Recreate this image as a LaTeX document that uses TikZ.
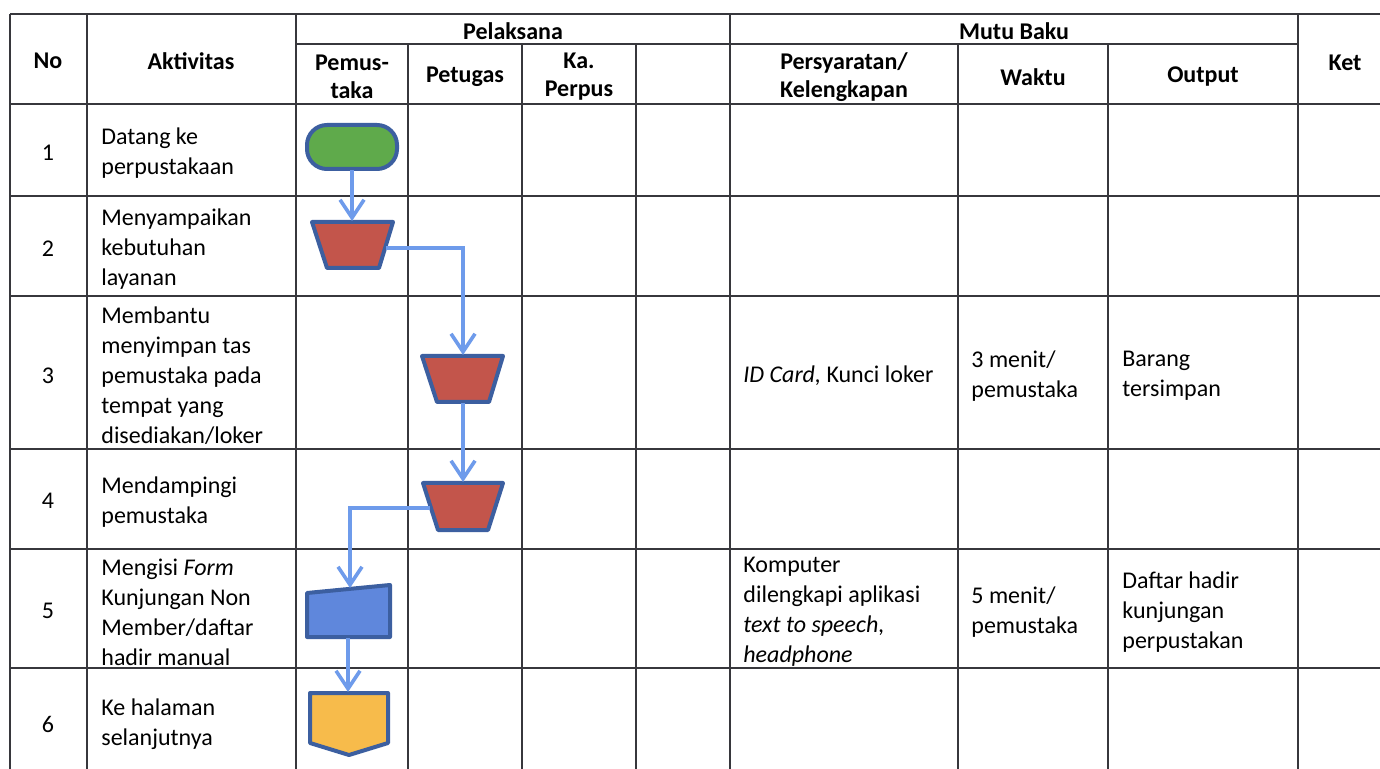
\documentclass[tikz,border=0pt]{standalone}
\usepackage{fontspec}
\setmainfont{Carlito}
\usetikzlibrary{arrows.meta}
\definecolor{gridc}{RGB}{55,55,60}
\definecolor{connc}{RGB}{110,155,235}
\definecolor{shpb}{RGB}{60,95,160}
\definecolor{greenc}{RGB}{95,170,75}
\definecolor{redc}{RGB}{195,85,75}
\definecolor{bluec}{RGB}{95,135,220}
\definecolor{goldc}{RGB}{247,187,75}
\begin{document}
\begin{tikzpicture}[x=0.5pt,y=-0.5pt,
  gridline/.style={draw=gridc,line width=0.8pt},
  hd/.style={font=\fontsize{12}{14}\selectfont\bfseries,align=center,inner sep=0pt},
  tx/.style={font=\fontsize{12}{15}\selectfont,align=left,anchor=west,inner sep=0pt},
  num/.style={font=\fontsize{12}{15}\selectfont,inner sep=0pt},
  shp/.style={draw=shpb,line width=2pt,line join=round},
  conn/.style={draw=connc,line width=1.8pt,-{Straight Barb[length=9pt,width=12pt,line width=1.8pt]}}
  ]
\useasboundingbox (0,0) rectangle (1380,769);
\fill[white] (0,0) rectangle (1380,769);
% table grid
\draw[gridline] (10,14) -- (1380,14);
\draw[gridline] (296,44) -- (1298,44);
\foreach \yy in {104,196,296,449,549,668}{\draw[gridline] (10,\yy) -- (1380,\yy);}
\foreach \xx in {10,87,296,730,1298}{\draw[gridline] (\xx,14) -- (\xx,769);}
\foreach \xx in {408,522,636,958,1108}{\draw[gridline] (\xx,44) -- (\xx,769);}
% headers
\node[hd] (hno) at (48,61) {No};
\node[hd] (hakt) at (191,61) {Aktivitas};
\node[hd] (hpel) at (513,31) {Pelaksana};
\node[hd] (hpem) at (352,77) {Pemus-\\taka};
\node[hd] (hpet) at (465,77) {Petugas};
\node[hd] (hka) at (579,77) {Ka.\\Perpus};
\node[hd] (hmutu) at (1014,31) {Mutu Baku};
\node[hd] (hsyar) at (844,77) {Persyaratan/\\Kelengkapan};
\node[hd] (hwak) at (1033,77) {Waktu};
\node[hd] (hout) at (1203,77) {Output};
\node[hd] (hket) at (1345,63) {Ket};
% numbers
\node[num] (n1) at (48,153) {1};
\node[num] (n2) at (48,249) {2};
\node[num] (n3) at (48,376) {3};
\node[num] (n4) at (48,501) {4};
\node[num] (n5) at (48,611) {5};
\node[num] (n6) at (48,724) {6};
% activities
\node[tx] (a1) at (101,153) {Datang ke\\perpustakaan};
\node[tx] (a2) at (101,249) {Menyampaikan\\kebutuhan\\layanan};
\node[tx] (a3) at (101,376) {Membantu\\menyimpan tas\\pemustaka pada\\tempat yang\\disediakan/loker};
\node[tx] (a4) at (101,502) {Mendampingi\\pemustaka};
\node[tx] (a5) at (101,612) {Mengisi \textit{Form}\\Kunjungan Non\\Member/daftar\\hadir manual};
\node[tx] (a6) at (101,724) {Ke halaman\\selanjutnya};
% mutu baku
\node[tx] (r3) at (743,376) {\textit{ID Card,} Kunci loker};
\node[tx] (r5) at (743,612) {Komputer\\dilengkapi aplikasi\\\textit{text to speech,}\\\textit{headphone}};
\node[tx] (w3) at (971,376) {3 menit/\\pemustaka};
\node[tx] (w5) at (971,612) {5 menit/\\pemustaka};
\node[tx] (o3) at (1122,376) {Barang\\tersimpan};
\node[tx] (o5) at (1122,612) {Daftar hadir\\kunjungan\\perpustakan};
% shapes
\filldraw[shp,fill=greenc,rounded corners=10pt] (307,125) rectangle (397,169);
\filldraw[shp,fill=redc] (312,222) -- (393,222) -- (379,268) -- (327,268) -- cycle;
\filldraw[shp,fill=redc] (422,356) -- (503,356) -- (489,402) -- (437,402) -- cycle;
\filldraw[shp,fill=redc] (423,483) -- (503,483) -- (488,530) -- (438,530) -- cycle;
\filldraw[shp,fill=bluec] (307,593) -- (390,585) -- (390,637) -- (307,637) -- cycle;
\filldraw[shp,fill=goldc] (310,693) -- (388,693) -- (388,743) -- (349,755) -- (310,743) -- cycle;
% connector endpoints
\coordinate (t1s) at (352,170);
\coordinate (t2n) at (352,221);
\coordinate (t2e) at (386,248);
\coordinate (t3n) at (463,355);
\coordinate (t3s) at (463,403);
\coordinate (t4n) at (463,482);
\coordinate (t4w) at (430,508);
\coordinate (m5n) at (350,588);
\coordinate (m5s) at (348,638);
\coordinate (o6n) at (348,692);
% connectors
\draw[conn] (t1s) -- (t2n);
\draw[conn] (t2e) -| (t3n);
\draw[conn] (t3s) -- (t4n);
\draw[conn] (t4w) -| (m5n);
\draw[conn] (m5s) -- (o6n);
\end{tikzpicture}
\end{document}
